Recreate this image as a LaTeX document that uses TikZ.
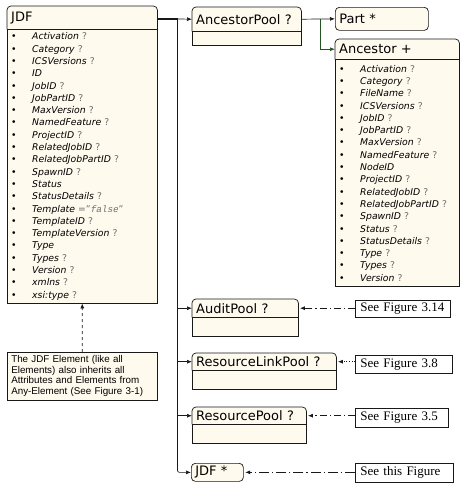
\documentclass[tikz,border=0pt]{standalone}
\usepackage{fontspec}
\setmainfont{DejaVu Sans}
\setmonofont{Liberation Mono}
\newfontfamily\notefont{Liberation Sans}
\newfontfamily\figfont{Liberation Serif}
\usepackage{tikz}
\usetikzlibrary{positioning,arrows.meta,backgrounds}
\definecolor{boxfill}{RGB}{255,250,238}
\definecolor{boxline}{RGB}{25,25,25}
\definecolor{optgray}{RGB}{110,110,110}
\definecolor{branchgreen}{RGB}{35,85,35}
\newcommand{\attrline}[1]{\makebox[21pt][l]{\textbullet}\textit{#1}}
\newcommand{\optmark}{\ {\color{optgray}?}}
\tikzset{
  elhead/.style={anchor=north west, inner xsep=4pt, inner ysep=0pt, align=left,
                 font=\fontsize{13}{15}\selectfont},
  elbody/.style={draw=boxline, fill=boxfill, line width=0.7pt, inner xsep=4pt,
                 inner ysep=3pt, align=left, font=\fontsize{9.3}{12.3}\selectfont},
  elref/.style={elhead, draw=boxline, fill=boxfill, line width=0.7pt, rounded corners=4pt},
  figref/.style={anchor=north west, draw=boxline, fill=white, line width=0.6pt,
                 inner xsep=5pt, inner ysep=0pt, align=left,
                 font=\figfont\fontsize{13}{15}\selectfont},
  notebox/.style={anchor=north west, draw=boxline, fill=boxfill, line width=0.6pt,
                  inner xsep=4pt, align=left, font=\notefont\fontsize{9.8}{10.6}\selectfont},
  conn/.style={draw=boxline, line width=0.7pt, -{Latex[length=5pt,width=4pt]}},
  seefig/.style={conn, dash pattern=on 7pt off 3pt on 1.2pt off 3pt},
}

\begin{document}
\begin{tikzpicture}[x=1pt, y=-1pt]
  \useasboundingbox (0,0) rectangle (469,491);

  % JDF element with its attributes
  \node[elhead, text width=142pt, minimum height=23pt] (jdf) at (7,6) {JDF};
  \node[elbody, text width=142pt, below=0pt of jdf] (jdfbody) {%
    \attrline{Activation}\optmark\\
    \attrline{Category}\optmark\\
    \attrline{ICSVersions}\optmark\\
    \attrline{ID}\\
    \attrline{JobID}\optmark\\
    \attrline{JobPartID}\optmark\\
    \attrline{MaxVersion}\optmark\\
    \attrline{NamedFeature}\optmark\\
    \attrline{ProjectID}\optmark\\
    \attrline{RelatedJobID}\optmark\\
    \attrline{RelatedJobPartID}\optmark\\
    \attrline{SpawnID}\optmark\\
    \attrline{Status}\\
    \attrline{StatusDetails}\optmark\\
    \attrline{Template} {\color{optgray}="\texttt{\itshape false}"}\\
    \attrline{TemplateID}\optmark\\
    \attrline{TemplateVersion}\optmark\\
    \attrline{Type}\\
    \attrline{Types}\optmark\\
    \attrline{Version}\optmark\\
    \attrline{xmlns}\optmark\\
    \attrline{xsi:type}\optmark};
  \node[notebox, text width=142pt, minimum height=47pt] (note) at (7,352) {%
    The JDF Element (like all\\
    Elements) also inherits all\\
    Attributes and Elements from\\
    Any-Element (See Figure 3-1)};

  % child elements
  \node[elhead, text width=101pt, minimum height=24pt] (ancpool) at (192,7) {AncestorPool ?};
  \node[elbody, minimum width=109pt, minimum height=14pt, below=0pt of ancpool] (ancpoolbody) {};
  \node[elref, text width=85pt, minimum height=23pt] (part) at (335,7) {Part *};
  \node[elhead, text width=116pt, minimum height=20pt] (anc) at (335,39) {Ancestor +};
  \node[elbody, text width=116pt, minimum height=227pt, below=0pt of anc] (ancbody) {%
    \attrline{Activation}\optmark\\
    \attrline{Category}\optmark\\
    \attrline{FileName}\optmark\\
    \attrline{ICSVersions}\optmark\\
    \attrline{JobID}\optmark\\
    \attrline{JobPartID}\optmark\\
    \attrline{MaxVersion}\optmark\\
    \attrline{NamedFeature}\optmark\\
    \attrline{NodeID}\\
    \attrline{ProjectID}\optmark\\
    \attrline{RelatedJobID}\optmark\\
    \attrline{RelatedJobPartID}\optmark\\
    \attrline{SpawnID}\optmark\\
    \attrline{Status}\optmark\\
    \attrline{StatusDetails}\optmark\\
    \attrline{Type}\optmark\\
    \attrline{Types}\optmark\\
    \attrline{Version}\optmark};

  \node[elhead, text width=98pt, minimum height=18pt] (audit) at (192,299) {AuditPool ?};
  \node[elbody, minimum width=106pt, minimum height=19pt, below=0pt of audit] (auditbody) {};
  \node[elhead, text width=136pt, minimum height=17pt] (rlink) at (192,353) {ResourceLinkPool ?};
  \node[elbody, minimum width=144pt, minimum height=19pt, below=0pt of rlink] (rlinkbody) {};
  \node[elhead, text width=106pt, minimum height=17pt] (rpool) at (192,407) {ResourcePool ?};
  \node[elbody, minimum width=114pt, minimum height=19pt, below=0pt of rpool] (rpoolbody) {};
  \node[elref, text width=44pt, minimum height=18pt] (jdfref) at (191,463) {JDF *};

  % figure references
  \node[figref, text width=85pt, minimum height=17pt] (fig314) at (355,300) {See Figure 3.14};
  \node[figref, text width=87pt, minimum height=18pt] (fig38) at (355,355) {See Figure 3.8};
  \node[figref, text width=83pt, minimum height=19pt] (fig35) at (355,408) {See Figure 3.5};
  \node[figref, text width=88pt, minimum height=19pt] (figthis) at (355,463) {See this Figure};

  % header outlines, rounded on top only
  \begin{scope}[on background layer]
    \foreach \h in {jdf,ancpool,anc,audit,rlink,rpool}
      \fill[boxfill, rounded corners=4pt] (\h.north west) rectangle ([yshift=-8pt]\h.south east);
  \end{scope}
  \foreach \h in {jdf,ancpool,anc,audit,rlink,rpool}
    \draw[boxline, line width=0.7pt, rounded corners=4pt]
      (\h.south west) -- (\h.north west) -- (\h.north east) -- (\h.south east);

  % connectors
  \coordinate (trunk) at (177.5,19);
  \coordinate (fork) at (320,19);
  \draw[boxline, line width=1.3pt] (jdf.east |- trunk) -- (trunk);
  \draw[conn] (trunk) -- (ancpool.west);
  \draw[conn, rounded corners=2pt] (trunk) |- (jdfref.west);
  \draw[conn] (trunk |- audit.west) -- (audit.west);
  \draw[conn] (trunk |- rlink.west) -- (rlink.west);
  \draw[conn] (trunk |- rpool.west) -- (rpool.west);
  \draw[conn] (ancpool.east) -- (part.west);
  \draw[conn, draw=branchgreen] (fork) |- (anc.west);

  \draw[seefig] (fig314.west |- audit.east) -- ([xshift=1.5pt]audit.east);
  \draw[conn, dotted] (fig38.west |- rlink.east) -- ([xshift=1.5pt]rlink.east);
  \draw[seefig] (fig35.west |- rpool.east) -- ([xshift=1.5pt]rpool.east);
  \draw[conn, dash pattern=on 10pt off 3pt on 1.2pt off 3pt] (figthis.west |- jdfref.east) -- ([xshift=1.5pt]jdfref.east);
  \draw[conn, dashed] (note) -- (jdfbody);

\end{tikzpicture}
\end{document}
